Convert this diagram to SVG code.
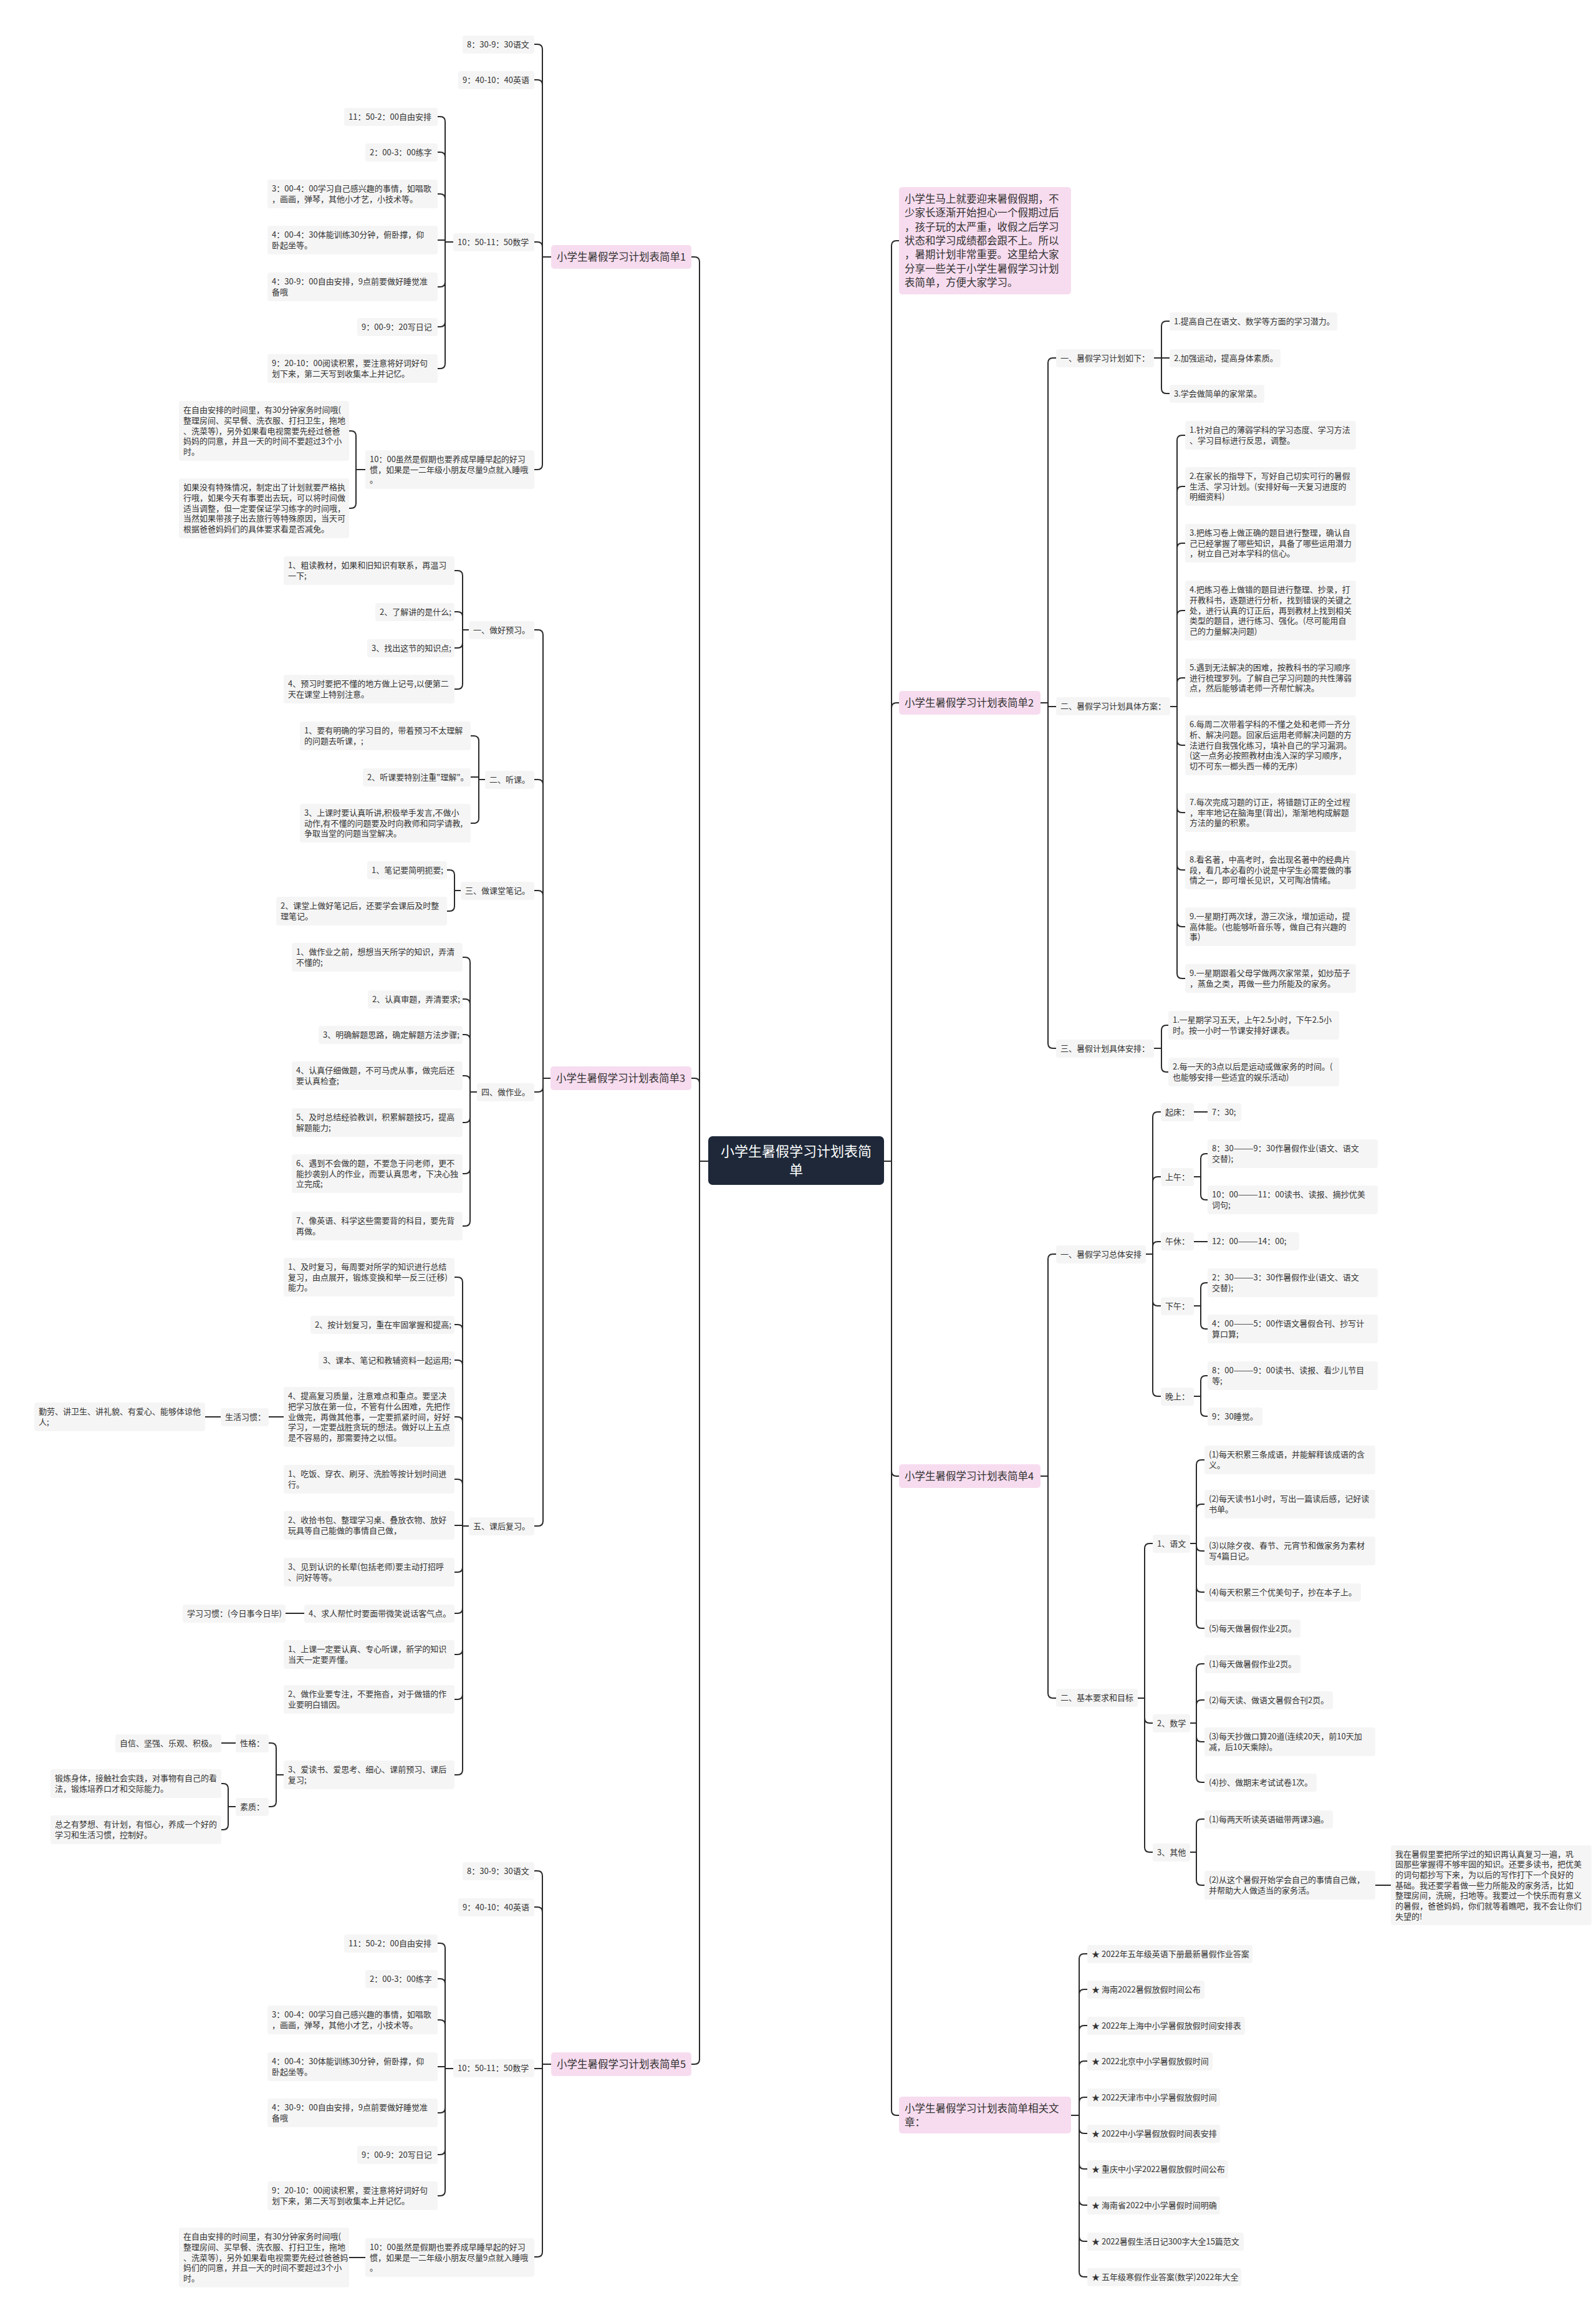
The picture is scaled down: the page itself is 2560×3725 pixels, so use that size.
<svg xmlns="http://www.w3.org/2000/svg" width="2560" height="3725" viewBox="0 0 2560 3725">
<style>
text{font-family:"Noto Sans CJK SC","Noto Sans",sans-serif;fill:#333}
.s rect{fill:#f5f5f5;rx:4px}
.s text{font-size:13px}
.p rect{fill:#f7dcef;rx:5px}
.p text{font-size:16.5px}
.c rect{fill:#1e2839;rx:7px}
.c text{font-size:22px;fill:#fff;text-anchor:middle}
.e path{fill:none;stroke:#2a2a2a;stroke-width:2;stroke-linecap:round}
</style>
<rect width="2560" height="3725" fill="#fff"/>
<g id="connectors" class="e">
<path d="M1109,412 H1114 Q1122,412 1122,420 V1862 M1109,1729 H1114 Q1122,1729 1122,1737 V1862 M1109,3310 H1114 Q1122,3310 1122,3302 V1862 M1136,1862 H1122"/>
<path d="M857,71 H862 Q870,71 870,79 V412 M857,128 H862 Q870,128 870,136 V412 M857,388 H862 Q870,388 870,396 V412 M857,753 H862 Q870,753 870,745 V412 M884,412 H870"/>
<path d="M702,187 H706 Q714,187 714,195 V388 M702,244 H706 Q714,244 714,252 V388 M702,311 H706 Q714,311 714,319 V388 M702,385 H714 V388 M702,460 H706 Q714,460 714,452 V388 M702,524 H706 Q714,524 714,516 V388 M702,591 H706 Q714,591 714,583 V388 M727,388 H714"/>
<path d="M560,691 H563 Q571,691 571,699 V753 M560,815 H563 Q571,815 571,807 V753 M586,753 H571"/>
<path d="M857,1010 H863 Q871,1010 871,1018 V1729 M857,1250 H863 Q871,1250 871,1258 V1729 M857,1428 H863 Q871,1428 871,1436 V1729 M857,1751 H863 Q871,1751 871,1743 V1729 M857,2447 H863 Q871,2447 871,2439 V1729 M883,1729 H871"/>
<path d="M729,915 H734 Q742,915 742,923 V1010 M729,981 H734 Q742,981 742,989 V1010 M729,1039 H734 Q742,1039 742,1031 V1010 M729,1105 H734 Q742,1105 742,1097 V1010 M752,1010 H742"/>
<path d="M755,1180 H760 Q768,1180 768,1188 V1250 M755,1246 H768 V1250 M755,1320 H760 Q768,1320 768,1312 V1250 M778,1250 H768"/>
<path d="M717,1395 H721 Q729,1395 729,1403 V1428 M717,1461 H721 Q729,1461 729,1453 V1428 M739,1428 H729"/>
<path d="M742,1535 H746 Q754,1535 754,1543 V1751 M742,1602 H746 Q754,1602 754,1610 V1751 M742,1659 H746 Q754,1659 754,1667 V1751 M742,1725 H746 Q754,1725 754,1733 V1751 M742,1800 H746 Q754,1800 754,1792 V1751 M742,1882 H746 Q754,1882 754,1874 V1751 M742,1966 H746 Q754,1966 754,1958 V1751 M765,1751 H754"/>
<path d="M729,2048 H734 Q742,2048 742,2056 V2447 M729,2124 H734 Q742,2124 742,2132 V2447 M729,2181 H734 Q742,2181 742,2189 V2447 M729,2272 H734 Q742,2272 742,2280 V2447 M729,2372 H734 Q742,2372 742,2380 V2447 M729,2446 H742 V2447 M729,2521 H734 Q742,2521 742,2513 V2447 M729,2587 H734 Q742,2587 742,2579 V2447 M729,2653 H734 Q742,2653 742,2645 V2447 M729,2725 H734 Q742,2725 742,2717 V2447 M729,2846 H734 Q742,2846 742,2838 V2447 M752,2447 H742"/>
<path d="M457,2272 H431 M354,2272 H329 M488,2587 H458"/>
<path d="M431,2795 H435 Q443,2795 443,2803 V2846 M431,2897 H435 Q443,2897 443,2889 V2846 M457,2846 H443 M378,2795 H355"/>
<path d="M355,2860 H358 Q366,2860 366,2868 V2897 M355,2934 H358 Q366,2934 366,2926 V2897 M378,2897 H366"/>
<path d="M857,3000 H862 Q870,3000 870,3008 V3310 M857,3058 H862 Q870,3058 870,3066 V3310 M857,3317 H870 V3310 M857,3619 H862 Q870,3619 870,3611 V3310 M884,3310 H870"/>
<path d="M702,3116 H706 Q714,3116 714,3124 V3317 M702,3173 H706 Q714,3173 714,3181 V3317 M702,3239 H706 Q714,3239 714,3247 V3317 M702,3314 H714 V3317 M702,3388 H706 Q714,3388 714,3380 V3317 M702,3455 H706 Q714,3455 714,3447 V3317 M702,3521 H706 Q714,3521 714,3513 V3317 M727,3317 H714"/>
<path d="M586,3620 H560"/>
<path d="M1442,386 H1438 Q1430,386 1430,394 V1862 M1442,1127 H1438 Q1430,1127 1430,1135 V1862 M1442,2367 H1438 Q1430,2367 1430,2359 V1862 M1442,3392 H1438 Q1430,3392 1430,3384 V1862 M1418,1862 H1430"/>
<path d="M1694,574 H1689 Q1681,574 1681,582 V1127 M1694,1133 H1681 V1127 M1694,1681 H1689 Q1681,1681 1681,1673 V1127 M1669,1127 H1681"/>
<path d="M1876,515 H1871 Q1863,515 1863,523 V574 M1876,574 H1863 M1876,631 H1871 Q1863,631 1863,623 V574 M1851,574 H1863"/>
<path d="M1901,698 H1896 Q1888,698 1888,706 V1133 M1901,780 H1896 Q1888,780 1888,788 V1133 M1901,871 H1896 Q1888,871 1888,879 V1133 M1901,979 H1896 Q1888,979 1888,987 V1133 M1901,1087 H1896 Q1888,1087 1888,1095 V1133 M1901,1195 H1896 Q1888,1195 1888,1187 V1133 M1901,1303 H1896 Q1888,1303 1888,1295 V1133 M1901,1395 H1896 Q1888,1395 1888,1387 V1133 M1901,1486 H1896 Q1888,1486 1888,1478 V1133 M1901,1569 H1896 Q1888,1569 1888,1561 V1133 M1877,1133 H1888"/>
<path d="M1874,1644 H1871 Q1863,1644 1863,1652 V1681 M1874,1719 H1871 Q1863,1719 1863,1711 V1681 M1851,1681 H1863"/>
<path d="M1694,2011 H1689 Q1681,2011 1681,2019 V2367 M1694,2723 H1689 Q1681,2723 1681,2715 V2367 M1669,2367 H1681"/>
<path d="M1862,1783 H1857 Q1849,1783 1849,1791 V2011 M1862,1887 H1857 Q1849,1887 1849,1895 V2011 M1862,1991 H1857 Q1849,1991 1849,1999 V2011 M1862,2094 H1857 Q1849,2094 1849,2086 V2011 M1862,2239 H1857 Q1849,2239 1849,2231 V2011 M1838,2011 H1849"/>
<path d="M1915,1783 H1937 M1915,1991 H1937"/>
<path d="M1937,1850 H1934 Q1926,1850 1926,1858 V1887 M1937,1924 H1934 Q1926,1924 1926,1916 V1887 M1915,1887 H1926"/>
<path d="M1937,2057 H1934 Q1926,2057 1926,2065 V2094 M1937,2131 H1934 Q1926,2131 1926,2123 V2094 M1915,2094 H1926"/>
<path d="M1937,2206 H1934 Q1926,2206 1926,2214 V2239 M1937,2271 H1934 Q1926,2271 1926,2263 V2239 M1915,2239 H1926"/>
<path d="M1849,2475 H1844 Q1836,2475 1836,2483 V2723 M1849,2763 H1844 Q1836,2763 1836,2755 V2723 M1849,2970 H1844 Q1836,2970 1836,2962 V2723 M1825,2723 H1836"/>
<path d="M1932,2341 H1927 Q1919,2341 1919,2349 V2475 M1932,2412 H1927 Q1919,2412 1919,2420 V2475 M1932,2487 H1927 Q1919,2487 1919,2479 V2475 M1932,2553 H1927 Q1919,2553 1919,2545 V2475 M1932,2611 H1927 Q1919,2611 1919,2603 V2475 M1909,2475 H1919"/>
<path d="M1932,2668 H1927 Q1919,2668 1919,2676 V2763 M1932,2726 H1927 Q1919,2726 1919,2734 V2763 M1932,2793 H1927 Q1919,2793 1919,2785 V2763 M1932,2858 H1927 Q1919,2858 1919,2850 V2763 M1909,2763 H1919"/>
<path d="M1932,2917 H1927 Q1919,2917 1919,2925 V2970 M1932,3023 H1927 Q1919,3023 1919,3015 V2970 M1909,2970 H1919 M2205,3023 H2231"/>
<path d="M1744,3133 H1739 Q1731,3133 1731,3141 V3392 M1744,3190 H1739 Q1731,3190 1731,3198 V3392 M1744,3248 H1739 Q1731,3248 1731,3256 V3392 M1744,3305 H1739 Q1731,3305 1731,3313 V3392 M1744,3363 H1739 Q1731,3363 1731,3371 V3392 M1744,3421 H1739 Q1731,3421 1731,3413 V3392 M1744,3478 H1739 Q1731,3478 1731,3470 V3392 M1744,3536 H1739 Q1731,3536 1731,3528 V3392 M1744,3594 H1739 Q1731,3594 1731,3586 V3392 M1744,3651 H1739 Q1731,3651 1731,3643 V3392 M1718,3392 H1731"/>
</g>

<g id="n-center" class="c"><rect x="1136" y="1822" width="282" height="78"/><text x="1277" y="1854">小学生暑假学习计划表简</text><text x="1277" y="1884">单</text></g>

<!-- Branch 1 -->
<g id="n-b1" class="p"><rect x="884" y="393" width="225" height="38"/><text x="893" y="418">小学生暑假学习计划表简单1</text></g>
<g id="n-b1-1" class="s"><rect x="742" y="57" width="115" height="29"/><text x="749" y="76">8：30-9：30语文</text></g>
<g id="n-b1-2" class="s"><rect x="735" y="114" width="122" height="29"/><text x="742" y="133">9：40-10：40英语</text></g>
<g id="n-b1-3" class="s"><rect x="727" y="374" width="130" height="29"/><text x="734" y="393">10：50-11：50数学</text></g>
<g id="n-b1-4" class="s"><rect x="586" y="722" width="271" height="62"/><text x="593" y="741">10：00虽然是假期也要养成早睡早起的好习</text><text x="593" y="757.7">惯，如果是一二年级小朋友尽量9点就入睡哦</text><text x="593" y="774.4">。</text></g>
<g id="n-b1-3-1" class="s"><rect x="552" y="173" width="150" height="29"/><text x="559" y="192">11：50-2：00自由安排</text></g>
<g id="n-b1-3-2" class="s"><rect x="586" y="230" width="116" height="29"/><text x="593" y="249">2：00-3：00练字</text></g>
<g id="n-b1-3-3" class="s"><rect x="429" y="288" width="273" height="46"/><text x="436" y="307.4">3：00-4：00学习自己感兴趣的事情，如唱歌</text><text x="436" y="324.1">，画画，弹琴，其他小才艺，小技术等。</text></g>
<g id="n-b1-3-4" class="s"><rect x="429" y="362" width="273" height="46"/><text x="436" y="381.4">4：00-4：30体能训练30分钟，俯卧撑，仰</text><text x="436" y="398.1">卧起坐等。</text></g>
<g id="n-b1-3-5" class="s"><rect x="429" y="437" width="273" height="46"/><text x="436" y="456.4">4：30-9：00自由安排，9点前要做好睡觉准</text><text x="436" y="473.1">备哦</text></g>
<g id="n-b1-3-6" class="s"><rect x="573" y="510" width="129" height="29"/><text x="580" y="529">9：00-9：20写日记</text></g>
<g id="n-b1-3-7" class="s"><rect x="429" y="568" width="273" height="46"/><text x="436" y="587.4">9：20-10：00阅读积累，要注意将好词好句</text><text x="436" y="604.1">划下来，第二天写到收集本上并记忆。</text></g>
<g id="n-b1-4-1" class="s"><rect x="287" y="643" width="273" height="96"/><text x="294" y="662.3">在自由安排的时间里，有30分钟家务时间哦(</text><text x="294" y="679">整理房间、买早餐、洗衣服、打扫卫生，拖地</text><text x="294" y="695.7">、洗菜等)，另外如果看电视需要先经过爸爸</text><text x="294" y="712.4">妈妈的同意，并且一天的时间不要超过3个小</text><text x="294" y="729.1">时。</text></g>
<g id="n-b1-4-2" class="s"><rect x="287" y="767" width="273" height="96"/><text x="294" y="786.3">如果没有特殊情况，制定出了计划就要严格执</text><text x="294" y="803">行哦，如果今天有事要出去玩，可以将时间做</text><text x="294" y="819.7">适当调整，但一定要保证学习练字的时间哦，</text><text x="294" y="836.4">当然如果带孩子出去旅行等特殊原因，当天可</text><text x="294" y="853.1">根据爸爸妈妈们的具体要求看是否减免。</text></g>

<!-- Branch 3 -->
<g id="n-b3" class="p"><rect x="883" y="1710" width="226" height="38"/><text x="892" y="1735">小学生暑假学习计划表简单3</text></g>
<g id="n-b3-1" class="s"><rect x="752" y="996" width="105" height="29"/><text x="759" y="1015">一、做好预习。</text></g>
<g id="n-b3-2" class="s"><rect x="778" y="1236" width="79" height="29"/><text x="785" y="1255">二、听课。</text></g>
<g id="n-b3-3" class="s"><rect x="739" y="1414" width="118" height="29"/><text x="746" y="1433">三、做课堂笔记。</text></g>
<g id="n-b3-4" class="s"><rect x="765" y="1737" width="92" height="29"/><text x="772" y="1756">四、做作业。</text></g>
<g id="n-b3-5" class="s"><rect x="752" y="2433" width="105" height="29"/><text x="759" y="2452">五、课后复习。</text></g>
<g id="n-b3-1-1" class="s"><rect x="455" y="892" width="274" height="46"/><text x="462" y="911.4">1、粗读教材，如果和旧知识有联系，再温习</text><text x="462" y="928.1">一下;</text></g>
<g id="n-b3-1-2" class="s"><rect x="602" y="967" width="127" height="29"/><text x="609" y="986">2、了解讲的是什么;</text></g>
<g id="n-b3-1-3" class="s"><rect x="589" y="1025" width="140" height="29"/><text x="596" y="1044">3、找出这节的知识点;</text></g>
<g id="n-b3-1-4" class="s"><rect x="455" y="1082" width="274" height="46"/><text x="462" y="1101.4">4、预习时要把不懂的地方做上记号,以便第二</text><text x="462" y="1118.1">天在课堂上特别注意。</text></g>
<g id="n-b3-2-1" class="s"><rect x="481" y="1157" width="274" height="46"/><text x="488" y="1176.4">1、要有明确的学习目的，带着预习不太理解</text><text x="488" y="1193.1">的问题去听课，;</text></g>
<g id="n-b3-2-2" class="s"><rect x="582" y="1232" width="173" height="29"/><text x="589" y="1251">2、听课要特别注重"理解"。</text></g>
<g id="n-b3-2-3" class="s"><rect x="481" y="1289" width="274" height="62"/><text x="488" y="1308">3、上课时要认真听讲,积极举手发言,不做小</text><text x="488" y="1324.7">动作,有不懂的问题要及时向教师和同学请教,</text><text x="488" y="1341.4">争取当堂的问题当堂解决。</text></g>
<g id="n-b3-3-1" class="s"><rect x="589" y="1381" width="128" height="29"/><text x="596" y="1400">1、笔记要简明扼要;</text></g>
<g id="n-b3-3-2" class="s"><rect x="443" y="1438" width="274" height="46"/><text x="450" y="1457.4">2、课堂上做好笔记后，还要学会课后及时整</text><text x="450" y="1474.1">理笔记。</text></g>
<g id="n-b3-4-1" class="s"><rect x="468" y="1512" width="274" height="46"/><text x="475" y="1531.4">1、做作业之前，想想当天所学的知识，弄清</text><text x="475" y="1548.1">不懂的;</text></g>
<g id="n-b3-4-2" class="s"><rect x="590" y="1588" width="152" height="29"/><text x="597" y="1607">2、认真审题，弄清要求;</text></g>
<g id="n-b3-4-3" class="s"><rect x="511" y="1645" width="231" height="29"/><text x="518" y="1664">3、明确解题思路，确定解题方法步骤;</text></g>
<g id="n-b3-4-4" class="s"><rect x="468" y="1702" width="274" height="46"/><text x="475" y="1721.4">4、认真仔细做题，不可马虎从事，做完后还</text><text x="475" y="1738.1">要认真检查;</text></g>
<g id="n-b3-4-5" class="s"><rect x="468" y="1777" width="274" height="46"/><text x="475" y="1796.4">5、及时总结经验教训，积累解题技巧，提高</text><text x="475" y="1813.1">解题能力;</text></g>
<g id="n-b3-4-6" class="s"><rect x="468" y="1851" width="274" height="62"/><text x="475" y="1870">6、遇到不会做的题，不要急于问老师，更不</text><text x="475" y="1886.7">能抄袭别人的作业，而要认真思考，下决心独</text><text x="475" y="1903.4">立完成;</text></g>
<g id="n-b3-4-7" class="s"><rect x="468" y="1943" width="274" height="46"/><text x="475" y="1962.4">7、像英语、科学这些需要背的科目，要先背</text><text x="475" y="1979.1">再做。</text></g>
<g id="n-b3-5-1" class="s"><rect x="455" y="2017" width="274" height="62"/><text x="462" y="2036">1、及时复习，每周要对所学的知识进行总结</text><text x="462" y="2052.7">复习，由点展开，锻炼变换和举一反三(迁移)</text><text x="462" y="2069.4">能力。</text></g>
<g id="n-b3-5-2" class="s"><rect x="498" y="2110" width="231" height="29"/><text x="505" y="2129">2、按计划复习，重在牢固掌握和提高;</text></g>
<g id="n-b3-5-3" class="s"><rect x="511" y="2167" width="218" height="29"/><text x="518" y="2186">3、课本、笔记和教辅资料一起运用;</text></g>
<g id="n-b3-5-4" class="s"><rect x="455" y="2224" width="274" height="96"/><text x="462" y="2243.3">4、提高复习质量，注意难点和重点。要坚决</text><text x="462" y="2260">把学习放在第一位，不管有什么困难，先把作</text><text x="462" y="2276.7">业做完，再做其他事，一定要抓紧时间，好好</text><text x="462" y="2293.4">学习，一定要战胜贪玩的想法。做好以上五点</text><text x="462" y="2310.1">是不容易的，那需要持之以恒。</text></g>
<g id="n-b3-5-5" class="s"><rect x="455" y="2349" width="274" height="46"/><text x="462" y="2368.4">1、吃饭、穿衣、刷牙、洗脸等按计划时间进</text><text x="462" y="2385.1">行。</text></g>
<g id="n-b3-5-6" class="s"><rect x="455" y="2423" width="274" height="46"/><text x="462" y="2442.4">2、收拾书包、整理学习桌、叠放衣物、放好</text><text x="462" y="2459.1">玩具等自己能做的事情自己做，</text></g>
<g id="n-b3-5-7" class="s"><rect x="455" y="2498" width="274" height="46"/><text x="462" y="2517.4">3、见到认识的长辈(包括老师)要主动打招呼</text><text x="462" y="2534.1">、问好等等。</text></g>
<g id="n-b3-5-8" class="s"><rect x="488" y="2573" width="241" height="29"/><text x="495" y="2592">4、求人帮忙时要面带微笑说话客气点。</text></g>
<g id="n-b3-5-9" class="s"><rect x="455" y="2630" width="274" height="46"/><text x="462" y="2649.4">1、上课一定要认真、专心听课，新学的知识</text><text x="462" y="2666.1">当天一定要弄懂。</text></g>
<g id="n-b3-5-10" class="s"><rect x="455" y="2702" width="274" height="46"/><text x="462" y="2721.4">2、做作业要专注，不要拖沓，对于做错的作</text><text x="462" y="2738.1">业要明白错因。</text></g>
<g id="n-b3-5-11" class="s"><rect x="455" y="2823" width="274" height="46"/><text x="462" y="2842.4">3、爱读书、爱思考、细心、课前预习、课后</text><text x="462" y="2859.1">复习;</text></g>
<g id="n-life" class="s"><rect x="354" y="2258" width="77" height="29"/><text x="361" y="2277">生活习惯：</text></g>
<g id="n-life-1" class="s"><rect x="55" y="2249" width="274" height="46"/><text x="62" y="2268.4">勤劳、讲卫生、讲礼貌、有爱心、能够体谅他</text><text x="62" y="2285.1">人;</text></g>
<g id="n-study" class="s"><rect x="293" y="2573" width="165" height="29"/><text x="300" y="2592">学习习惯：(今日事今日毕)</text></g>
<g id="n-char" class="s"><rect x="378" y="2781" width="53" height="29"/><text x="385" y="2800">性格：</text></g>
<g id="n-char-1" class="s"><rect x="185" y="2781" width="170" height="29"/><text x="192" y="2800">自信、坚强、乐观、积极。</text></g>
<g id="n-qual" class="s"><rect x="378" y="2883" width="53" height="29"/><text x="385" y="2902">素质：</text></g>
<g id="n-qual-1" class="s"><rect x="81" y="2837" width="274" height="46"/><text x="88" y="2856.4">锻炼身体，接触社会实践，对事物有自己的看</text><text x="88" y="2873.1">法，锻炼培养口才和交际能力。</text></g>
<g id="n-qual-2" class="s"><rect x="81" y="2911" width="274" height="46"/><text x="88" y="2930.4">总之有梦想、有计划，有恒心，养成一个好的</text><text x="88" y="2947.1">学习和生活习惯，控制好。</text></g>

<!-- Branch 5 -->
<g id="n-b5" class="p"><rect x="884" y="3291" width="225" height="38"/><text x="893" y="3316">小学生暑假学习计划表简单5</text></g>
<g id="n-b5-1" class="s"><rect x="742" y="2986" width="115" height="29"/><text x="749" y="3005">8：30-9：30语文</text></g>
<g id="n-b5-2" class="s"><rect x="735" y="3044" width="122" height="29"/><text x="742" y="3063">9：40-10：40英语</text></g>
<g id="n-b5-3" class="s"><rect x="727" y="3302" width="130" height="29"/><text x="734" y="3321">10：50-11：50数学</text></g>
<g id="n-b5-4" class="s"><rect x="586" y="3589" width="271" height="62"/><text x="593" y="3608">10：00虽然是假期也要养成早睡早起的好习</text><text x="593" y="3624.7">惯，如果是一二年级小朋友尽量9点就入睡哦</text><text x="593" y="3641.4">。</text></g>
<g id="n-b5-3-1" class="s"><rect x="552" y="3102" width="150" height="29"/><text x="559" y="3121">11：50-2：00自由安排</text></g>
<g id="n-b5-3-2" class="s"><rect x="586" y="3159" width="116" height="29"/><text x="593" y="3178">2：00-3：00练字</text></g>
<g id="n-b5-3-3" class="s"><rect x="429" y="3216" width="273" height="46"/><text x="436" y="3235.4">3：00-4：00学习自己感兴趣的事情，如唱歌</text><text x="436" y="3252.1">，画画，弹琴，其他小才艺，小技术等。</text></g>
<g id="n-b5-3-4" class="s"><rect x="429" y="3291" width="273" height="46"/><text x="436" y="3310.4">4：00-4：30体能训练30分钟，俯卧撑，仰</text><text x="436" y="3327.1">卧起坐等。</text></g>
<g id="n-b5-3-5" class="s"><rect x="429" y="3365" width="273" height="46"/><text x="436" y="3384.4">4：30-9：00自由安排，9点前要做好睡觉准</text><text x="436" y="3401.1">备哦</text></g>
<g id="n-b5-3-6" class="s"><rect x="573" y="3441" width="129" height="29"/><text x="580" y="3460">9：00-9：20写日记</text></g>
<g id="n-b5-3-7" class="s"><rect x="429" y="3498" width="273" height="46"/><text x="436" y="3517.4">9：20-10：00阅读积累，要注意将好词好句</text><text x="436" y="3534.1">划下来，第二天写到收集本上并记忆。</text></g>
<g id="n-b5-4-1" class="s"><rect x="287" y="3572" width="273" height="96"/><text x="294" y="3591.3">在自由安排的时间里，有30分钟家务时间哦(</text><text x="294" y="3608">整理房间、买早餐、洗衣服、打扫卫生，拖地</text><text x="294" y="3624.7">、洗菜等)，另外如果看电视需要先经过爸爸妈</text><text x="294" y="3641.4">妈们的同意，并且一天的时间不要超过3个小</text><text x="294" y="3658.1">时。</text></g>

<!-- Right: intro -->
<g id="n-intro" class="p"><rect x="1442" y="300" width="276" height="172"/><text x="1451" y="325">小学生马上就要迎来暑假假期，不</text><text x="1451" y="347.3">少家长逐渐开始担心一个假期过后</text><text x="1451" y="369.6">，孩子玩的太严重，收假之后学习</text><text x="1451" y="391.9">状态和学习成绩都会跟不上。所以</text><text x="1451" y="414.2">，暑期计划非常重要。这里给大家</text><text x="1451" y="436.5">分享一些关于小学生暑假学习计划</text><text x="1451" y="458.8">表简单，方便大家学习。</text></g>

<!-- Branch 2 -->
<g id="n-b2" class="p"><rect x="1442" y="1108" width="227" height="38"/><text x="1451" y="1133">小学生暑假学习计划表简单2</text></g>
<g id="n-b2-1" class="s"><rect x="1694" y="560" width="157" height="29"/><text x="1701" y="579">一、暑假学习计划如下：</text></g>
<g id="n-b2-2" class="s"><rect x="1694" y="1118" width="183" height="29"/><text x="1701" y="1137">二、暑假学习计划具体方案：</text></g>
<g id="n-b2-3" class="s"><rect x="1694" y="1667" width="157" height="29"/><text x="1701" y="1686">三、暑假计划具体安排：</text></g>
<g id="n-b2-1-1" class="s"><rect x="1876" y="501" width="269" height="29"/><text x="1883" y="520">1.提高自己在语文、数学等方面的学习潜力。</text></g>
<g id="n-b2-1-2" class="s"><rect x="1876" y="560" width="178" height="29"/><text x="1883" y="579">2.加强运动，提高身体素质。</text></g>
<g id="n-b2-1-3" class="s"><rect x="1876" y="617" width="152" height="29"/><text x="1883" y="636">3.学会做简单的家常菜。</text></g>
<g id="n-b2-2-1" class="s"><rect x="1901" y="675" width="274" height="46"/><text x="1908" y="694.4">1.针对自己的薄弱学科的学习态度、学习方法</text><text x="1908" y="711.1">、学习目标进行反思，调整。</text></g>
<g id="n-b2-2-2" class="s"><rect x="1901" y="749" width="274" height="62"/><text x="1908" y="768">2.在家长的指导下，写好自己切实可行的暑假</text><text x="1908" y="784.7">生活、学习计划。(安排好每一天复习进度的</text><text x="1908" y="801.4">明细资料)</text></g>
<g id="n-b2-2-3" class="s"><rect x="1901" y="840" width="274" height="62"/><text x="1908" y="859">3.把练习卷上做正确的题目进行整理，确认自</text><text x="1908" y="875.7">己已经掌握了哪些知识，具备了哪些运用潜力</text><text x="1908" y="892.4">，树立自己对本学科的信心。</text></g>
<g id="n-b2-2-4" class="s"><rect x="1901" y="931" width="274" height="96"/><text x="1908" y="950.3">4.把练习卷上做错的题目进行整理、抄录，打</text><text x="1908" y="967">开教科书，逐题进行分析，找到错误的关键之</text><text x="1908" y="983.7">处，进行认真的订正后，再到教材上找到相关</text><text x="1908" y="1000.4">类型的题目，进行练习、强化。(尽可能用自</text><text x="1908" y="1017.1">己的力量解决问题)</text></g>
<g id="n-b2-2-5" class="s"><rect x="1901" y="1056" width="274" height="62"/><text x="1908" y="1075">5.遇到无法解决的困难，按教科书的学习顺序</text><text x="1908" y="1091.7">进行梳理罗列。了解自己学习问题的共性薄弱</text><text x="1908" y="1108.4">点，然后能够请老师一齐帮忙解决。</text></g>
<g id="n-b2-2-6" class="s"><rect x="1901" y="1147" width="274" height="96"/><text x="1908" y="1166.3">6.每周二次带着学科的不懂之处和老师一齐分</text><text x="1908" y="1183">析、解决问题。回家后运用老师解决问题的方</text><text x="1908" y="1199.7">法进行自我强化练习，填补自己的学习漏洞。</text><text x="1908" y="1216.4">(这一点务必按照教材由浅入深的学习顺序，</text><text x="1908" y="1233.1">切不可东一榔头西一棒的无序)</text></g>
<g id="n-b2-2-7" class="s"><rect x="1901" y="1272" width="274" height="62"/><text x="1908" y="1291">7.每次完成习题的订正，将错题订正的全过程</text><text x="1908" y="1307.7">，牢牢地记在脑海里(背出)，渐渐地构成解题</text><text x="1908" y="1324.4">方法的量的积累。</text></g>
<g id="n-b2-2-8" class="s"><rect x="1901" y="1364" width="274" height="62"/><text x="1908" y="1383">8.看名著，中高考时，会出现名著中的经典片</text><text x="1908" y="1399.7">段，看几本必看的小说是中学生必需要做的事</text><text x="1908" y="1416.4">情之一，即可增长见识，又可陶冶情绪。</text></g>
<g id="n-b2-2-9" class="s"><rect x="1901" y="1455" width="274" height="62"/><text x="1908" y="1474">9.一星期打两次球，游三次泳，增加运动，提</text><text x="1908" y="1490.7">高体能。(也能够听音乐等，做自己有兴趣的</text><text x="1908" y="1507.4">事)</text></g>
<g id="n-b2-2-10" class="s"><rect x="1901" y="1546" width="274" height="46"/><text x="1908" y="1565.4">9.一星期跟着父母学做两次家常菜，如炒茄子</text><text x="1908" y="1582.1">，蒸鱼之类，再做一些力所能及的家务。</text></g>
<g id="n-b2-3-1" class="s"><rect x="1874" y="1621" width="274" height="46"/><text x="1881" y="1640.4">1.一星期学习五天，上午2.5小时，下午2.5小</text><text x="1881" y="1657.1">时。按一小时一节课安排好课表。</text></g>
<g id="n-b2-3-2" class="s"><rect x="1874" y="1696" width="274" height="46"/><text x="1881" y="1715.4">2.每一天的3点以后是运动或做家务的时间。(</text><text x="1881" y="1732.1">也能够安排一些适宜的娱乐活动)</text></g>

<!-- Branch 4 -->
<g id="n-b4" class="p"><rect x="1442" y="2348" width="227" height="38"/><text x="1451" y="2373">小学生暑假学习计划表简单4</text></g>
<g id="n-b4-1" class="s"><rect x="1694" y="1997" width="144" height="29"/><text x="1701" y="2016">一、暑假学习总体安排</text></g>
<g id="n-b4-2" class="s"><rect x="1694" y="2708" width="131" height="29"/><text x="1701" y="2727">二、基本要求和目标</text></g>
<g id="n-b4-1-1" class="s"><rect x="1862" y="1769" width="53" height="29"/><text x="1869" y="1788">起床：</text></g>
<g id="n-b4-1-1a" class="s"><rect x="1937" y="1769" width="54" height="29"/><text x="1944" y="1788">7：30;</text></g>
<g id="n-b4-1-2" class="s"><rect x="1862" y="1873" width="53" height="29"/><text x="1869" y="1892">上午：</text></g>
<g id="n-b4-1-2a" class="s"><rect x="1937" y="1827" width="273" height="46"/><text x="1944" y="1846.4">8：30———9：30作暑假作业(语文、语文</text><text x="1944" y="1863.1">交替);</text></g>
<g id="n-b4-1-2b" class="s"><rect x="1937" y="1901" width="273" height="46"/><text x="1944" y="1920.4">10：00———11：00读书、读报、摘抄优美</text><text x="1944" y="1937.1">词句;</text></g>
<g id="n-b4-1-3" class="s"><rect x="1862" y="1976" width="53" height="29"/><text x="1869" y="1995">午休：</text></g>
<g id="n-b4-1-3a" class="s"><rect x="1937" y="1976" width="147" height="29"/><text x="1944" y="1995">12：00———14：00;</text></g>
<g id="n-b4-1-4" class="s"><rect x="1862" y="2080" width="53" height="29"/><text x="1869" y="2099">下午：</text></g>
<g id="n-b4-1-4a" class="s"><rect x="1937" y="2034" width="273" height="46"/><text x="1944" y="2053.4">2：30———3：30作暑假作业(语文、语文</text><text x="1944" y="2070.1">交替);</text></g>
<g id="n-b4-1-4b" class="s"><rect x="1937" y="2108" width="273" height="46"/><text x="1944" y="2127.4">4：00———5：00作语文暑假合刊、抄写计</text><text x="1944" y="2144.1">算口算;</text></g>
<g id="n-b4-1-5" class="s"><rect x="1862" y="2225" width="53" height="29"/><text x="1869" y="2244">晚上：</text></g>
<g id="n-b4-1-5a" class="s"><rect x="1937" y="2183" width="273" height="46"/><text x="1944" y="2202.4">8：00———9：00读书、读报、看少儿节目</text><text x="1944" y="2219.1">等;</text></g>
<g id="n-b4-1-5b" class="s"><rect x="1937" y="2257" width="88" height="29"/><text x="1944" y="2276">9：30睡觉。</text></g>
<g id="n-b4-2-1" class="s"><rect x="1849" y="2461" width="60" height="29"/><text x="1856" y="2480">1、语文</text></g>
<g id="n-b4-2-2" class="s"><rect x="1849" y="2749" width="60" height="29"/><text x="1856" y="2768">2、数学</text></g>
<g id="n-b4-2-3" class="s"><rect x="1849" y="2956" width="60" height="29"/><text x="1856" y="2975">3、其他</text></g>
<g id="n-b4-2-1a" class="s"><rect x="1932" y="2318" width="274" height="46"/><text x="1939" y="2337.4">(1)每天积累三条成语，并能解释该成语的含</text><text x="1939" y="2354.1">义。</text></g>
<g id="n-b4-2-1b" class="s"><rect x="1932" y="2389" width="274" height="46"/><text x="1939" y="2408.4">(2)每天读书1小时，写出一篇读后感，记好读</text><text x="1939" y="2425.1">书单。</text></g>
<g id="n-b4-2-1c" class="s"><rect x="1932" y="2464" width="274" height="46"/><text x="1939" y="2483.4">(3)以除夕夜、春节、元宵节和做家务为素材</text><text x="1939" y="2500.1">写4篇日记。</text></g>
<g id="n-b4-2-1d" class="s"><rect x="1932" y="2539" width="251" height="29"/><text x="1939" y="2558">(4)每天积累三个优美句子，抄在本子上。</text></g>
<g id="n-b4-2-1e" class="s"><rect x="1932" y="2597" width="154" height="29"/><text x="1939" y="2616">(5)每天做暑假作业2页。</text></g>
<g id="n-b4-2-2a" class="s"><rect x="1932" y="2654" width="154" height="29"/><text x="1939" y="2673">(1)每天做暑假作业2页。</text></g>
<g id="n-b4-2-2b" class="s"><rect x="1932" y="2712" width="206" height="29"/><text x="1939" y="2731">(2)每天读、做语文暑假合刊2页。</text></g>
<g id="n-b4-2-2c" class="s"><rect x="1932" y="2770" width="274" height="46"/><text x="1939" y="2789.4">(3)每天抄做口算20道(连续20天，前10天加</text><text x="1939" y="2806.1">减，后10天乘除)。</text></g>
<g id="n-b4-2-2d" class="s"><rect x="1932" y="2844" width="180" height="29"/><text x="1939" y="2863">(4)抄、做期末考试试卷1次。</text></g>
<g id="n-b4-2-3a" class="s"><rect x="1932" y="2903" width="206" height="29"/><text x="1939" y="2922">(1)每两天听读英语磁带两课3遍。</text></g>
<g id="n-b4-2-3b" class="s"><rect x="1932" y="3000" width="274" height="46"/><text x="1939" y="3019.4">(2)从这个暑假开始学会自己的事情自己做，</text><text x="1939" y="3036.1">并帮助大人做适当的家务活。</text></g>
<g id="n-b4-2-3b-1" class="s"><rect x="2231" y="2959" width="322" height="128"/><text x="2238" y="2977.6">我在暑假里要把所学过的知识再认真复习一遍，巩</text><text x="2238" y="2994.3">固那些掌握得不够牢固的知识。还要多读书，把优美</text><text x="2238" y="3011">的词句都抄写下来，为以后的写作打下一个良好的</text><text x="2238" y="3027.7">基础。我还要学着做一些力所能及的家务活，比如</text><text x="2238" y="3044.4">整理房间，洗碗，扫地等。我要过一个快乐而有意义</text><text x="2238" y="3061.1">的暑假，爸爸妈妈，你们就等着瞧吧，我不会让你们</text><text x="2238" y="3077.8">失望的!</text></g>

<!-- Related -->
<g id="n-rel" class="p"><rect x="1442" y="3362" width="276" height="59"/><text x="1451" y="3387">小学生暑假学习计划表简单相关文</text><text x="1451" y="3409">章：</text></g>
<g id="n-rel-1" class="s"><rect x="1744" y="3119" width="265" height="29"/><text x="1751" y="3138">★ 2022年五年级英语下册最新暑假作业答案</text></g>
<g id="n-rel-2" class="s"><rect x="1744" y="3176" width="188" height="29"/><text x="1751" y="3195">★ 海南2022暑假放假时间公布</text></g>
<g id="n-rel-3" class="s"><rect x="1744" y="3234" width="253" height="29"/><text x="1751" y="3253">★ 2022年上海中小学暑假放假时间安排表</text></g>
<g id="n-rel-4" class="s"><rect x="1744" y="3291" width="201" height="29"/><text x="1751" y="3310">★ 2022北京中小学暑假放假时间</text></g>
<g id="n-rel-5" class="s"><rect x="1744" y="3349" width="213" height="29"/><text x="1751" y="3368">★ 2022天津市中小学暑假放假时间</text></g>
<g id="n-rel-6" class="s"><rect x="1744" y="3407" width="213" height="29"/><text x="1751" y="3426">★ 2022中小学暑假放假时间表安排</text></g>
<g id="n-rel-7" class="s"><rect x="1744" y="3464" width="226" height="29"/><text x="1751" y="3483">★ 重庆中小学2022暑假放假时间公布</text></g>
<g id="n-rel-8" class="s"><rect x="1744" y="3522" width="213" height="29"/><text x="1751" y="3541">★ 海南省2022中小学暑假时间明确</text></g>
<g id="n-rel-9" class="s"><rect x="1744" y="3580" width="251" height="29"/><text x="1751" y="3599">★ 2022暑假生活日记300字大全15篇范文</text></g>
<g id="n-rel-10" class="s"><rect x="1744" y="3637" width="247" height="29"/><text x="1751" y="3656">★ 五年级寒假作业答案(数学)2022年大全</text></g>
</svg>
